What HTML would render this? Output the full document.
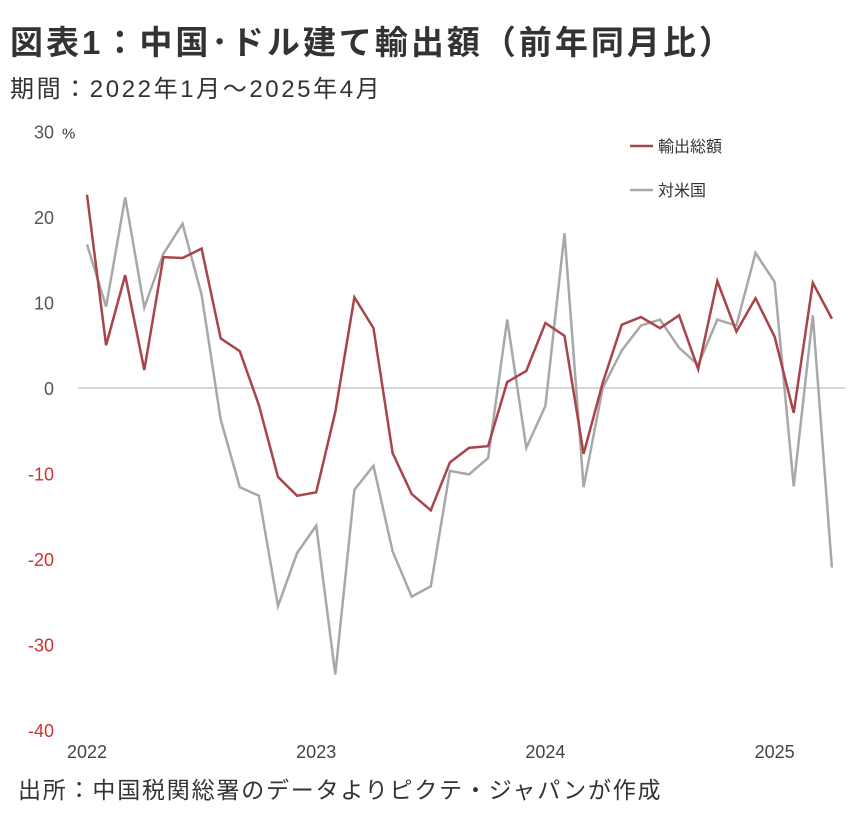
<!DOCTYPE html>
<html><head><meta charset="utf-8"><style>
html,body{margin:0;padding:0;background:#fff;width:858px;height:814px;overflow:hidden}
.t{position:absolute;font-family:"Liberation Sans","Noto Sans CJK JP",sans-serif;color:#222;white-space:nowrap}
</style></head><body>
<div class="t" style="left:10px;top:16px;font-size:33px;letter-spacing:3px;font-weight:bold;color:#333">図表1：中国･ドル建て輸出額（前年同月比）</div>
<div class="t" style="left:10px;top:69px;font-size:24px;letter-spacing:2.6px;color:#333">期間：2022年1月～2025年4月</div>
<div class="t" style="left:18px;top:771px;font-size:23px;letter-spacing:1.8px;color:#333">出所：中国税関総署のデータよりピクテ・ジャパンが作成</div>
<svg id="c" width="858" height="814" style="position:absolute;left:0;top:0"></svg>
<script>
const months=40;
const yTicks=[30,20,10,0,-10,-20,-30,-40];
const xLabels=["2022","2023","2024","2025"];
const total=[22.6,5.0,13.2,2.1,15.3,15.2,16.3,5.8,4.3,-2.0,-10.4,-12.6,-12.2,-2.8,10.6,7.0,-7.6,-12.4,-14.3,-8.7,-7.0,-6.8,0.7,2.0,7.6,6.1,-7.7,0.6,7.4,8.3,7.0,8.5,2.2,12.5,6.6,10.5,6.0,-2.9,12.3,8.1];
const usa=[16.8,9.5,22.3,9.4,15.7,19.2,10.9,-3.7,-11.6,-12.6,-25.5,-19.3,-16.1,-33.5,-11.9,-9.1,-19.1,-24.4,-23.2,-9.7,-10.1,-8.2,8.0,-7.0,-2.1,18.1,-11.6,0,4.4,7.3,8.0,4.7,2.7,8.0,7.3,15.8,12.4,-11.5,8.5,-21.0];
const NS="http://www.w3.org/2000/svg";
const svg=document.getElementById('c');
const x=i=>87+i*19.1;
const y=v=>388-v*8.55;
function mk(tag,attrs){const e=document.createElementNS(NS,tag);for(const k in attrs)e.setAttribute(k,attrs[k]);svg.appendChild(e);return e;}
const zl=mk('line',{x1:78,x2:845,y1:y(0),y2:y(0),stroke:'#c8c8c8','stroke-width':1.5});


yTicks.forEach(v=>{const t=mk('text',{x:54,y:y(v)+7,'text-anchor':'end','font-size':18,fill:v<0?'#d03030':'#555','font-family':'Liberation Sans, sans-serif'});t.textContent=v;

});
const pu=mk('text',{x:62,y:y(30)+7,'font-size':15,fill:'#333','font-family':'Liberation Sans, sans-serif'});pu.textContent='%';


xLabels.forEach((l,k)=>{const t=mk('text',{x:x(k*12),y:758,'text-anchor':'middle','font-size':18,fill:'#444','font-family':'Liberation Sans, sans-serif'});t.textContent=l;

});
function line(arr,col,name){const p=mk('polyline',{points:arr.map((v,i)=>x(i)+','+y(v)).join(' '),fill:'none',stroke:col,'stroke-width':2.5,'stroke-linejoin':'miter'});

}
line(usa,'#a8a8a8','series-us');
line(total,'#a8444a','series-total');
[[146,'#a8444a','輸出総額'],[190,'#a8a8a8','対米国']].forEach(([ly,c,txt])=>{
const l=mk('line',{x1:630,x2:653,y1:ly,y2:ly,stroke:c,'stroke-width':2.5});


const t=mk('text',{x:658,y:ly+6,'font-size':16,fill:'#333','font-family':'Liberation Sans, Noto Sans CJK JP, sans-serif'});t.textContent=txt;

});
</script>
</body></html>
